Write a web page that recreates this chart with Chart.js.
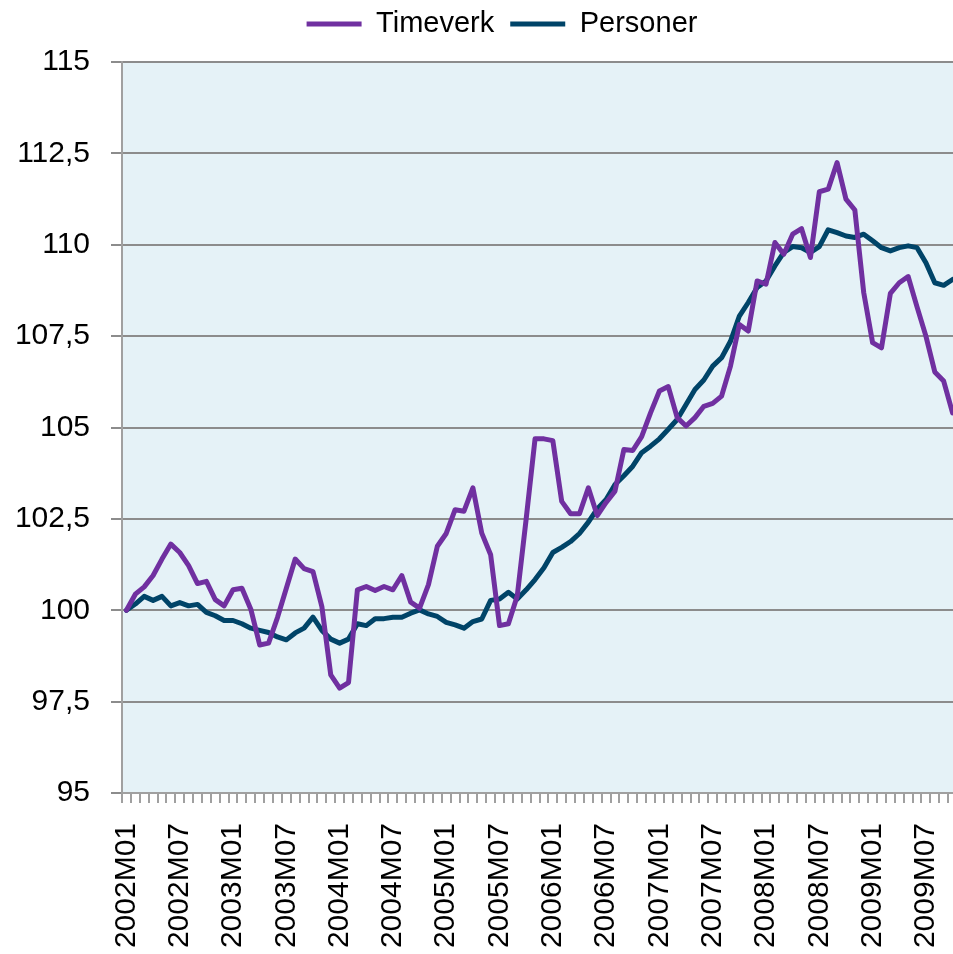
<!DOCTYPE html>
<html>
<head>
<meta charset="utf-8">
<script src="https://cdn.jsdelivr.net/npm/chart.js@4/dist/chart.umd.min.js"></script>
<style>
  html, body { margin: 0; padding: 0; background: #fff; overflow: hidden; }
  #wrap { width: 953px; height: 954px; overflow: hidden; }
</style>
</head>
<body>
<div id="wrap"><canvas id="chart" width="957" height="954"></canvas></div>
<script>
// months 2002M01 .. 2009M10
const months = [];
for (let y = 2002; y <= 2009; y++) {
  for (let m = 1; m <= 12; m++) {
    if (y === 2009 && m > 10) break;
    months.push(y + 'M' + String(m).padStart(2, '0'));
  }
}

const timeverk = [
  100.0, 100.44, 100.64, 100.95, 101.4, 101.81, 101.58, 101.22, 100.73, 100.79,
  100.29, 100.12, 100.56, 100.6, 100.03, 99.05, 99.1, 99.8, 100.6, 101.4,
  101.14, 101.06, 100.1, 98.23, 97.87, 98.02, 100.56, 100.65, 100.54, 100.65,
  100.56, 100.95, 100.22, 100.06, 100.7, 101.75, 102.1, 102.75, 102.71, 103.35,
  102.11, 101.52, 99.58, 99.63, 100.4, 102.5, 104.69, 104.69, 104.64, 102.98,
  102.64, 102.64, 103.35, 102.59, 102.95, 103.26, 104.4, 104.37, 104.75, 105.4,
  106.0, 106.12, 105.27, 105.04, 105.27, 105.58, 105.66, 105.86, 106.68, 107.82,
  107.64, 109.01, 108.92, 110.06, 109.74, 110.29, 110.44, 109.65, 111.45, 111.52,
  112.25, 111.25, 110.95, 108.69, 107.32, 107.18, 108.67, 108.96, 109.13, 108.3,
  107.5, 106.52, 106.27, 105.4
];

const personer = [
  100.0, 100.17, 100.38, 100.27, 100.38, 100.12, 100.21, 100.12, 100.16, 99.94,
  99.85, 99.72, 99.72, 99.63, 99.51, 99.45, 99.39, 99.27, 99.19, 99.38,
  99.51, 99.81, 99.45, 99.21, 99.1, 99.21, 99.63, 99.58, 99.77, 99.77,
  99.81, 99.81, 99.92, 100.01, 99.9, 99.83, 99.67, 99.6, 99.51, 99.69,
  99.76, 100.27, 100.31, 100.49, 100.31, 100.56, 100.84, 101.16, 101.58, 101.72,
  101.88, 102.1, 102.41, 102.77, 103.03, 103.44, 103.68, 103.94, 104.31, 104.49,
  104.69, 104.95, 105.22, 105.63, 106.04, 106.3, 106.68, 106.91, 107.36, 108.05,
  108.42, 108.83, 109.01, 109.42, 109.79, 109.95, 109.92, 109.79, 109.95, 110.41,
  110.33, 110.24, 110.2, 110.29, 110.11, 109.92, 109.83, 109.92, 109.97, 109.92,
  109.51, 108.96, 108.89, 109.05
];

const yMin = 95, yMax = 115, yStep = 2.5;

Chart.defaults.font.family = "'Liberation Sans', Arial, sans-serif";
Chart.defaults.color = '#000';

// light blue plot area
const plotBg = {
  id: 'plotBg',
  beforeDraw(chart) {
    const a = chart.chartArea, c = chart.ctx;
    c.save();
    c.fillStyle = '#e5f2f7';
    c.fillRect(a.left, a.top, a.right - a.left, a.bottom - a.top);
    c.restore();
  }
};

// legend sits higher and a bit right of where chart.js puts it, with a bigger gap to the plot
const legendPlace = {
  id: 'legendPlace',
  afterInit(chart) {
    const fit = chart.legend.fit;
    chart.legend.fit = function () { fit.call(this); this.height = 62; };
  },
  afterLayout(chart) {
    const lg = chart.legend;
    lg.top -= 6.5; lg.bottom -= 6.5;
    lg.left += 23.5; lg.right += 23.5;
  }
};

new Chart(document.getElementById('chart'), {
  type: 'line',
  data: {
    labels: months,
    datasets: [
      { label: 'Timeverk', data: timeverk, borderColor: '#7030a0', backgroundColor: '#7030a0',
        borderWidth: 5, pointRadius: 0, tension: 0, borderJoinStyle: 'round', borderCapStyle: 'round' },
      { label: 'Personer', data: personer, borderColor: '#004468', backgroundColor: '#004468',
        borderWidth: 5, pointRadius: 0, tension: 0, borderJoinStyle: 'round', borderCapStyle: 'round' }
    ]
  },
  options: {
    responsive: false,
    animation: false,
    layout: { padding: 0 },
    plugins: {
      legend: {
        position: 'top',
        labels: {
          font: { size: 29 },
          color: '#000',
          usePointStyle: true,
          pointStyle: 'line',
          pointStyleWidth: 55,
          padding: 16
        }
      },
      tooltip: { enabled: false }
    },
    scales: {
      x: {
        offset: true,
        grid: { offset: true, drawOnChartArea: false, drawTicks: true, tickLength: 10, color: '#a0a0a0', lineWidth: 2 },
        border: { color: '#a0a0a0', width: 2 },
        ticks: {
          autoSkip: false, minRotation: 90, maxRotation: 90, padding: 20,
          font: { size: 30 }, color: '#000',
          callback: function (v, i) { return i % 6 === 0 ? this.getLabelForValue(v) : ''; }
        },
        afterFit(scale) {
          scale.height = 161;
          scale.paddingLeft = 0;
          scale.paddingRight = 0;
        }
      },
      y: {
        min: yMin, max: yMax,
        grid: { color: '#8c8c8c', lineWidth: 2, tickLength: 11 },
        border: { color: '#a0a0a0', width: 2 },
        ticks: {
          stepSize: yStep, padding: 21, font: { size: 30 }, color: '#000',
          callback: v => String(v).replace('.', ',')
        },
        afterFit(scale) { scale.width = 122; }
      }
    }
  },
  plugins: [plotBg, legendPlace]
});
</script>
</body>
</html>
